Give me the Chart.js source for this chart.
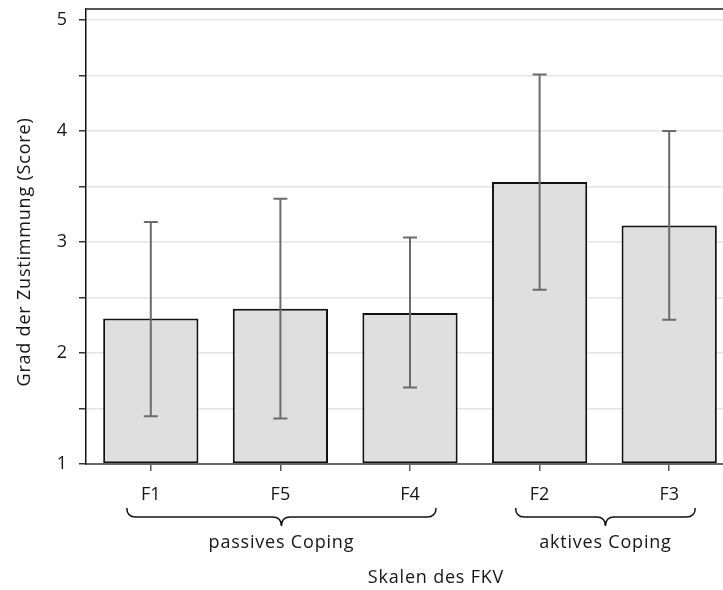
<!DOCTYPE html>
<html>
<head>
<meta charset="utf-8">
<script src="https://cdn.jsdelivr.net/npm/chart.js@4.4.1/dist/chart.umd.min.js"></script>
<style>
  html, body { margin: 0; padding: 0; overflow: hidden; background: #fff; }
  #wrap { position: absolute; left: 0; top: 0; width: 745px; height: 590px; }
</style>
</head>
<body>
<div id="wrap"><canvas id="chart" width="745" height="590"></canvas></div>
<script>
// Chart data
let scales_ = ['F1', 'F5', 'F4', 'F2', 'F3'];
let means = [2.31, 2.40, 2.36, 3.54, 3.15];
let upper = [3.18, 3.39, 3.04, 4.51, 4.00];
let lower = [1.43, 1.41, 1.69, 2.57, 2.30];
let yTicks = [1, 1.5, 2, 2.5, 3, 3.5, 4, 4.5, 5];

// Groups under the x axis
let groupNames = ['passives Coping', 'aktives Coping'];
let groupFirst = [0, 3];
let groupLast = [2, 4];

let yTitle = 'Grad der Zustimmung (Score)';
let xTitle = 'Skalen des FKV';

const FONT = '"Open Sans", "DejaVu Sans", sans-serif';
const TEXT = '#151515';

// Error bars, braces and titles
let extras = {
  id: 'extras',
  afterDatasetsDraw(chart) {
    let ctx = chart.ctx;
    let y = chart.scales.y;
    let bars = chart.getDatasetMeta(0).data;
    ctx.save();
    ctx.strokeStyle = '#6b6b6b';
    ctx.lineWidth = 2;
    bars.forEach((bar, i) => {
      let yt = y.getPixelForValue(upper[i]);
      let yb = y.getPixelForValue(lower[i]);
      ctx.beginPath();
      ctx.moveTo(bar.x, yt); ctx.lineTo(bar.x, yb);
      ctx.moveTo(bar.x - 7, yt); ctx.lineTo(bar.x + 7, yt);
      ctx.moveTo(bar.x - 7, yb); ctx.lineTo(bar.x + 7, yb);
      ctx.stroke();
    });
    ctx.restore();
  },
  afterDraw(chart) {
    let ctx = chart.ctx;
    let x = chart.scales.x;
    let area = chart.chartArea;
    ctx.save();

    // top frame line
    ctx.strokeStyle = '#555';
    ctx.lineWidth = 2;
    ctx.beginPath();
    ctx.moveTo(area.left, area.top);
    ctx.lineTo(area.right, area.top);
    ctx.stroke();

    // braces
    ctx.strokeStyle = '#111';
    ctx.lineWidth = 1.5;
    ctx.fillStyle = TEXT;
    ctx.font = '18px ' + FONT;
    ctx.letterSpacing = '0.8px';
    ctx.textAlign = 'center';
    ctx.textBaseline = 'middle';
    let top = 508, r = 9;
    groupNames.forEach((name, g) => {
      let x0 = x.getPixelForValue(groupFirst[g]) - 24;
      let x1 = x.getPixelForValue(groupLast[g]) + 26;
      let xc = (x0 + x1) / 2;
      ctx.beginPath();
      ctx.moveTo(x0, top);
      ctx.quadraticCurveTo(x0, top + r, x0 + r, top + r);
      ctx.lineTo(xc - r, top + r);
      ctx.quadraticCurveTo(xc, top + r, xc, top + 2 * r);
      ctx.quadraticCurveTo(xc, top + r, xc + r, top + r);
      ctx.lineTo(x1 - r, top + r);
      ctx.quadraticCurveTo(x1, top + r, x1, top);
      ctx.stroke();
      ctx.fillText(name, xc, 543);
    });

    // axis titles
    ctx.fillText(xTitle, 436, 578);
    ctx.translate(25, 252);
    ctx.rotate(-Math.PI / 2);
    ctx.fillText(yTitle, 0, 0);
    ctx.restore();
  }
};

let chart = new Chart(document.getElementById('chart'), {
  type: 'bar',
  data: {
    labels: scales_,
    datasets: [{
      data: means,
      base: 1,
      backgroundColor: '#dfdfdf',
      borderColor: '#111',
      borderWidth: 2,
      borderSkipped: false,
      barPercentage: 0.735,
      categoryPercentage: 1,
    }],
  },
  options: {
    responsive: false,
    animation: false,
    devicePixelRatio: 1,
    layout: { padding: { left: 0, top: 9, right: 11, bottom: 0 } },
    plugins: {
      legend: { display: false },
      tooltip: { enabled: false },
    },
    scales: {
      x: {
        offset: true,
        afterFit: s => { s.height = 126; s.paddingLeft = 0; s.paddingRight = 0; },
        grid: {
          offset: false,
          drawOnChartArea: false,
          drawTicks: true,
          tickLength: 7,
          tickColor: '#555',
          lineWidth: 1.5,
        },
        border: { color: '#666', width: 2, z: 1 },
        ticks: {
          color: TEXT,
          font: { family: FONT, size: 18 },
          padding: 13,
        },
      },
      y: {
        min: 1,
        max: 5.1,
        afterFit: s => { s.width = 86; s.paddingTop = 0; s.paddingBottom = 0; },
        afterBuildTicks: s => { s.ticks = yTicks.map(v => ({ value: v })); },
        grid: {
          color: '#e4e4e4',
          lineWidth: 1.5,
          tickLength: 7,
          tickColor: '#333',
        },
        border: { color: '#111', width: 1.5, z: 1 },
        ticks: {
          color: TEXT,
          font: { family: FONT, size: 18 },
          padding: 12,
          callback: v => (v % 1 === 0 ? v : ''),
        },
      },
    },
  },
  plugins: [extras],
});
</script>
</body>
</html>
